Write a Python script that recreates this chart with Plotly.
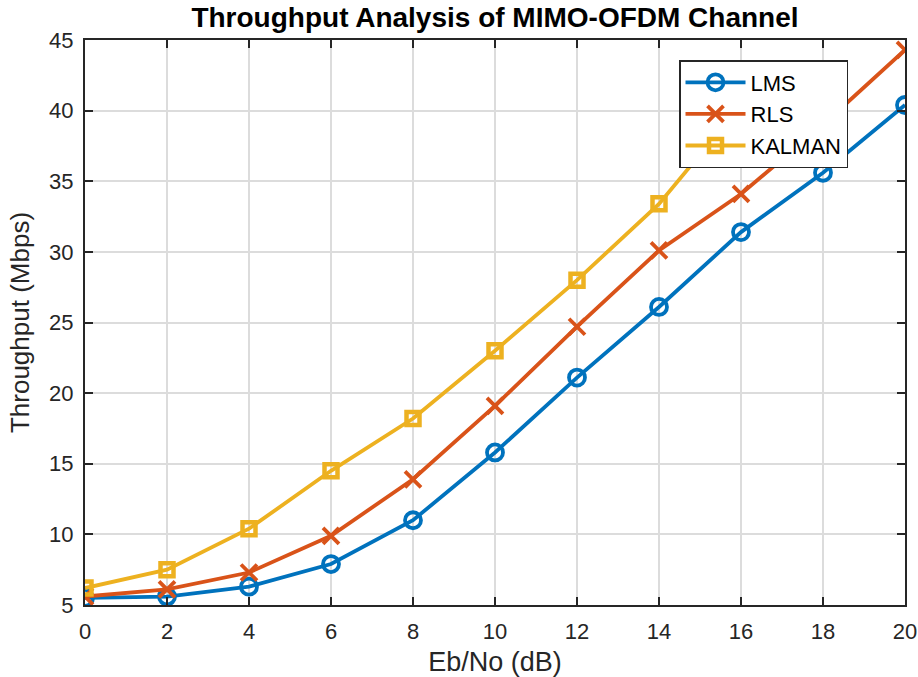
import plotly.graph_objects as go

ebno = [0, 2, 4, 6, 8, 10, 12, 14, 16, 18, 20]
lms = [5.5, 5.6, 6.3, 7.9, 11.0, 15.8, 21.1, 26.1, 31.4, 35.6, 40.4]
rls = [5.6, 6.1, 7.3, 9.9, 13.9, 19.1, 24.7, 30.1, 34.1, 39.0, 44.3]
kalman_x = [0, 2, 4, 6, 8, 10, 12, 14, 16]
kalman = [6.2, 7.5, 10.4, 14.5, 18.2, 23.0, 28.0, 33.4, 40.4]

x_ticks = list(range(0, 21, 2))
y_ticks = list(range(5, 46, 5))

FONT = "Liberation Sans, Arial, Helvetica, sans-serif"

fig = go.Figure()
fig.add_trace(go.Scatter(
    x=ebno, y=lms, name="LMS", mode="lines+markers",
    line=dict(color="#0072BD", width=3.8),
    marker=dict(symbol="circle-open", size=16, line=dict(width=3.8, color="#0072BD")),
))
fig.add_trace(go.Scatter(
    x=ebno, y=rls, name="RLS", mode="lines+markers",
    line=dict(color="#D95319", width=3.8),
    marker=dict(symbol="x-thin-open", size=16, line=dict(width=3.8, color="#D95319")),
))
fig.add_trace(go.Scatter(
    x=kalman_x, y=kalman, name="KALMAN", mode="lines+markers",
    line=dict(color="#EDB120", width=3.8),
    marker=dict(symbol="square-open", size=13, line=dict(width=4.5, color="#EDB120")),
))

axis_common = dict(
    showline=True, linecolor="#262626", linewidth=2, mirror="allticks",
    ticks="inside", ticklen=8, tickwidth=2, tickcolor="#262626",
    showgrid=True, gridcolor="#DCDCDC", gridwidth=1.5,
    zeroline=False, automargin=False,
    tickfont=dict(family=FONT, size=22, color="#262626"),
)

fig.update_layout(
    width=918, height=677,
    margin=dict(l=85, r=13, t=40, b=72),
    paper_bgcolor="white", plot_bgcolor="white",
    title=dict(text="<b>Throughput Analysis of MIMO-OFDM Channel</b>",
               x=0.5392, xanchor="center",
               y=0.974, yanchor="middle",
               font=dict(family=FONT, size=28, color="black")),
    xaxis=dict(range=[0, 20], tickvals=x_ticks, ticklabelstandoff=6,
               title=dict(text="Eb/No (dB)", font=dict(family=FONT, size=27, color="#262626"), standoff=10),
               **axis_common),
    yaxis=dict(range=[5, 45], tickvals=y_ticks, ticklabelstandoff=5,
               title=dict(text="Throughput (Mbps)", font=dict(family=FONT, size=26, color="#262626"), standoff=12),
               **axis_common),
    legend=dict(x=0.7244, y=0.9646, xanchor="left", yanchor="top",
                bgcolor="white", bordercolor="#262626", borderwidth=1.5,
                font=dict(family=FONT, size=22, color="black"),
                itemwidth=60, tracegroupgap=0),
    showlegend=True,
)

fig.write_html("out.html")
